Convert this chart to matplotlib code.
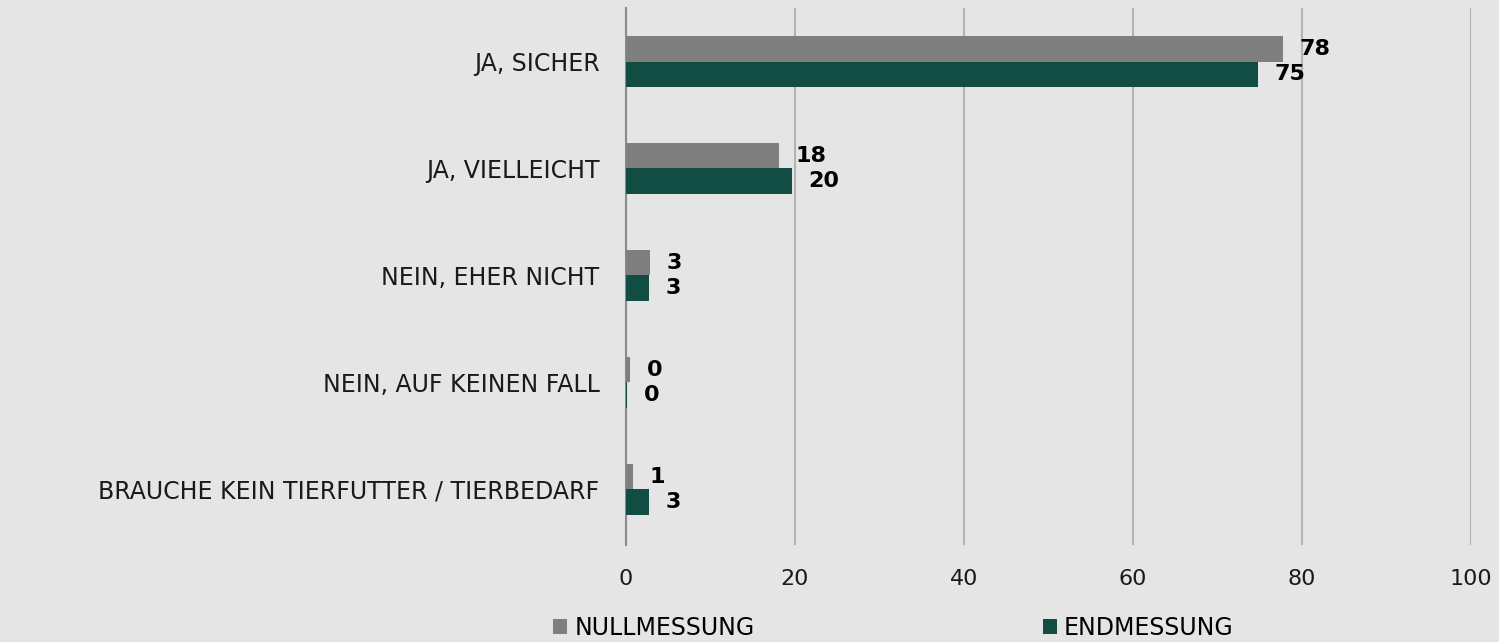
import numpy as np
import matplotlib.pyplot as plt

categories = ['JA, SICHER', 'JA, VIELLEICHT', 'NEIN, EHER NICHT',
              'NEIN, AUF KEINEN FALL', 'BRAUCHE KEIN TIERFUTTER / TIERBEDARF']
null_vals = [77.7, 18.1, 2.85, 0.5, 0.85]
end_vals = [74.8, 19.6, 2.75, 0.1, 2.75]
null_labels = ['78', '18', '3', '0', '1']
end_labels = ['75', '20', '3', '0', '3']
series_names = ['NULLMESSUNG', 'ENDMESSUNG']

bg = '#e5e5e5'
c_null = '#7f7f7f'
c_end = '#114d43'

fig = plt.figure(figsize=(14.99, 6.42), dpi=100, facecolor=bg)
ax = fig.add_axes([0.4176, 0.151, 0.5637, 0.8365], facecolor=bg)

y = np.arange(len(categories))
h = 0.24
b1 = ax.barh(y - h/2, null_vals, height=h, color=c_null, label=series_names[0], zorder=3)
b2 = ax.barh(y + h/2, end_vals, height=h, color=c_end, label=series_names[1], zorder=3)

for bars, labs in ((b1, null_labels), (b2, end_labels)):
    for r, t in zip(bars, labs):
        ax.annotate(t, (r.get_width(), r.get_y() + r.get_height()/2),
                    xytext=(12, 0), textcoords='offset points',
                    ha='left', va='center', fontsize=16, fontweight='bold', color='black')

ax.set_xlim(0, 100)
ax.set_ylim(4.52, -0.5)
ax.set_xticks(range(0, 101, 20))
ax.set_yticks(y, categories)
ax.grid(axis='x', color='#b3b3b3', linewidth=1.5, zorder=0)
ax.tick_params(length=0, labelsize=16, colors='#1a1a1a')
ax.tick_params(axis='y', labelsize=17, pad=19)
ax.tick_params(axis='x', pad=17)
for s in ['top', 'right', 'bottom']:
    ax.spines[s].set_visible(False)
ax.spines['left'].set_color('#8c8c8c')
ax.spines['left'].set_linewidth(1.5)

fig.legend(handles=[b1, b2], loc='lower center', bbox_to_anchor=(0.596, -0.03),
           ncol=2, frameon=False, fontsize=17, handlelength=0.6, handleheight=0.6,
           handletextpad=0.3, columnspacing=12.2)

fig.savefig('out.png', dpi=100, facecolor=bg)
